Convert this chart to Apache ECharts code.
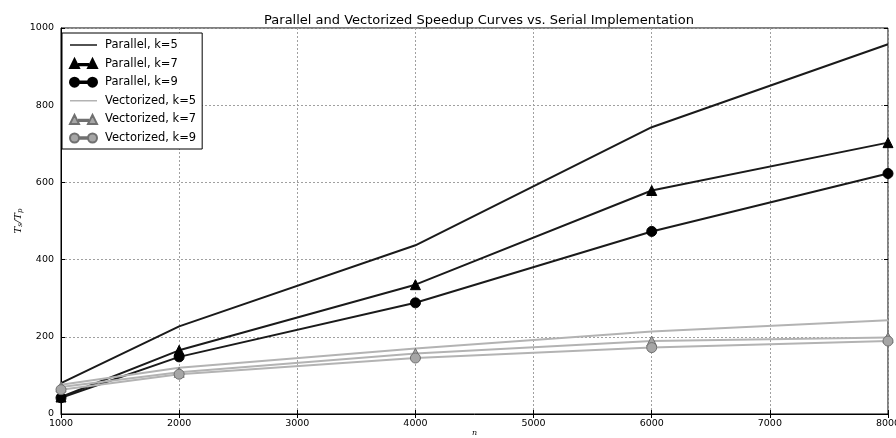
<!DOCTYPE html>
<html>
<head>
<meta charset="utf-8">
<script src="https://cdn.jsdelivr.net/npm/echarts@6/dist/echarts.min.js"></script>
<style>
  html, body { margin: 0; padding: 0; background: #fff; }
  #chart { width: 896px; height: 438px; }
</style>
</head>
<body>
<div id="chart"></div>
<script>
// Problem sizes n
const nValues = [1000, 2000, 4000, 6000, 8000];

// Speedup Ts/Tp, parallel implementation
const parallelK5 = [80, 227, 437, 743, 958];
const parallelK7 = [44, 165, 335, 579, 703];
const parallelK9 = [42, 148, 288, 473, 623];

// Speedup Ts/Tp, vectorized implementation
const vectorizedK5 = [76, 120, 170, 214, 243];
const vectorizedK7 = [70, 108, 157, 189, 198];
const vectorizedK9 = [63, 103, 145, 172, 189];

const xTicks = [1000, 8000, 1000];   // min, max, step
const yTicks = [0, 1000, 200];

const FONT = '"DejaVu Sans", sans-serif';

// legend icons, all with a 27x9 bounding box
// plain line (two zero-area subpaths pin the box height)
const lineIcon = 'path://M0,0L0.01,0Z M0,3.8L27,3.8L27,5.2L0,5.2Z M0,9L0.01,9Z';
// marker - line - marker
const triIcon = 'path://M0,9L4.5,0L9,9Z M9,4.8L18,4.8L18,6.2L9,6.2Z M18,9L22.5,0L27,9Z';
const circIcon = 'path://M0,4.5A4.5,4.5 0 1 1 9,4.5A4.5,4.5 0 1 1 0,4.5Z M9,3.8L18,3.8L18,5.2L9,5.2Z M18,4.5A4.5,4.5 0 1 1 27,4.5A4.5,4.5 0 1 1 18,4.5Z';

const pairs = arr => nValues.map((n, i) => [n, arr[i]]);

const DARK = '#1a1a1a';
const LIGHT = '#b3b3b3';
const GRAYFILL = '#a6a6a6';
const GRAYEDGE = '#707070';

function lineSeries(name, data, color, symbol, fill, edge) {
  const s = {
    name: name,
    type: 'line',
    data: pairs(data),
    xAxisIndex: 0,
    yAxisIndex: 0,
    lineStyle: { color: color, width: 2 },
    itemStyle: { color: fill || color },
    symbol: symbol || 'none',
    symbolSize: 10,
    showSymbol: !!symbol,
    animation: false,
    emphasis: { disabled: true }
  };
  if (symbol) {
    s.itemStyle.borderColor = edge;
    s.itemStyle.borderWidth = 1;
  }
  return s;
}

const chart = echarts.init(document.getElementById('chart'), null, { renderer: 'canvas' });

const plain = v => String(v);
const axisLabelStyle = { color: '#000', fontSize: 9.5, fontFamily: FONT, formatter: plain };

chart.setOption({
  backgroundColor: '#fff',
  animation: false,
  title: {
    text: 'Parallel and Vectorized Speedup Curves vs. Serial Implementation',
    left: 474,
    textAlign: 'center',
    top: 9,
    textStyle: { fontFamily: FONT, fontSize: 13, fontWeight: 'normal', color: '#000' }
  },
  grid: {
    left: 61, right: 8, top: 28, bottom: 24,
    outerBoundsMode: 'none',
    containLabel: false,
    show: true, borderColor: '#000', borderWidth: 1, backgroundColor: 'transparent'
  },
  legend: {
    orient: 'vertical',
    left: 62, top: 33,
    padding: [6, 6, 5, 7],
    itemWidth: 27, itemHeight: 9,
    itemGap: 6.6,
    backgroundColor: '#fff',
    borderColor: '#000', borderWidth: 1, borderRadius: 0,
    textStyle: { fontFamily: FONT, fontSize: 11.5, color: '#000', lineHeight: 12, padding: [0, 0, 0, 3] },
    data: [
      { name: 'Parallel, k=5', icon: lineIcon },
      { name: 'Parallel, k=7', icon: triIcon },
      { name: 'Parallel, k=9', icon: circIcon },
      { name: 'Vectorized, k=5', icon: lineIcon },
      { name: 'Vectorized, k=7', icon: triIcon },
      { name: 'Vectorized, k=9', icon: circIcon }
    ]
  },
  xAxis: [
    {
      type: 'value', min: xTicks[0], max: xTicks[1], interval: xTicks[2],
      name: 'n', nameLocation: 'middle', nameGap: 15, nameMoveOverlap: false,
      nameTextStyle: { fontFamily: '"DejaVu Serif", serif', fontStyle: 'italic', fontSize: 8, color: '#000' },
      axisLine: { show: true, lineStyle: { color: '#000', width: 1 } },
      axisTick: { show: true, inside: true, length: 4, lineStyle: { color: '#000' } },
      axisLabel: Object.assign({ margin: 5 }, axisLabelStyle),
      splitLine: { show: true, lineStyle: { color: '#a0a0a0', type: [2, 2], width: 1 } }
    },
    {
      type: 'value', position: 'top', min: xTicks[0], max: xTicks[1], interval: xTicks[2],
      axisLine: { show: false },
      axisTick: { show: true, inside: true, length: 4, lineStyle: { color: '#000' } },
      axisLabel: { show: false },
      splitLine: { show: false }
    }
  ],
  yAxis: [
    {
      type: 'value', min: yTicks[0], max: yTicks[1], interval: yTicks[2],
      name: '{i|T}{s|s}{i|/T}{s|p}', nameLocation: 'middle', nameGap: 37, nameMoveOverlap: false,
      nameTextStyle: {
        color: '#000',
        rich: {
          i: { fontFamily: '"DejaVu Serif", serif', fontStyle: 'italic', fontSize: 10, color: '#000' },
          s: { fontFamily: '"DejaVu Serif", serif', fontStyle: 'italic', fontSize: 7, color: '#000', verticalAlign: 'bottom', padding: [4, 0, 0, 0] }
        }
      },
      axisLine: { show: true, lineStyle: { color: '#000', width: 1 } },
      axisTick: { show: true, inside: true, length: 4, lineStyle: { color: '#000' } },
      axisLabel: Object.assign({ margin: 7 }, axisLabelStyle),
      splitLine: { show: true, lineStyle: { color: '#a0a0a0', type: [2, 2], width: 1 } }
    },
    {
      type: 'value', position: 'right', min: yTicks[0], max: yTicks[1], interval: yTicks[2],
      axisLine: { show: false },
      axisTick: { show: true, inside: true, length: 4, lineStyle: { color: '#000' } },
      axisLabel: { show: false },
      splitLine: { show: false }
    }
  ],
  series: [
    lineSeries('Parallel, k=5', parallelK5, DARK),
    lineSeries('Parallel, k=7', parallelK7, DARK, 'triangle', '#000', '#000'),
    lineSeries('Parallel, k=9', parallelK9, DARK, 'circle', '#000', '#000'),
    lineSeries('Vectorized, k=5', vectorizedK5, LIGHT),
    lineSeries('Vectorized, k=7', vectorizedK7, LIGHT, 'triangle', GRAYFILL, GRAYEDGE),
    lineSeries('Vectorized, k=9', vectorizedK9, LIGHT, 'circle', GRAYFILL, GRAYEDGE)
  ]
});
</script>
</body>
</html>
